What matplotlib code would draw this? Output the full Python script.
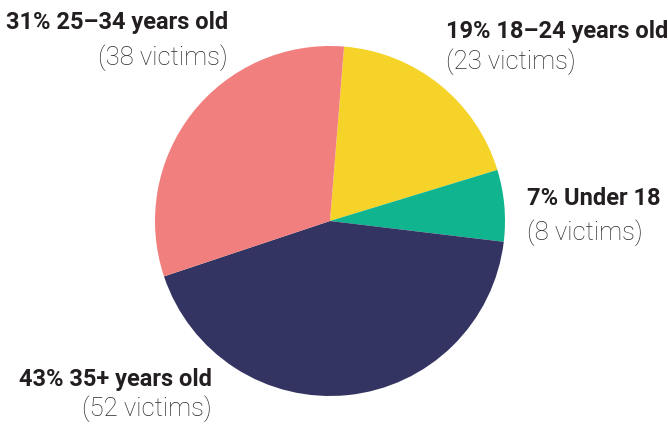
import matplotlib
matplotlib.use("Agg")
import matplotlib.pyplot as plt
from matplotlib import font_manager as fm

# Data
labels = ["18–24 years old", "Under 18", "35+ years old", "25–34 years old"]
victims = [23, 8, 52, 38]
colors = ["#F5D328", "#10B48F", "#343462", "#F17F7D"]

W, H = 668, 427
fig = plt.figure(figsize=(W / 100, H / 100), dpi=100)

cx, cy, r = 330, 222, 175
ax = fig.add_axes([(cx - r) / W, (H - cy - r) / H, 2 * r / W, 2 * r / H])
ax.pie(victims, colors=colors, startangle=85.4, counterclock=False,
       radius=1, wedgeprops=dict(linewidth=0))
ax.set_xlim(-1, 1)
ax.set_ylim(-1, 1)
ax.set_aspect("auto")
ax.axis("off")

names = {f.name for f in fm.fontManager.ttflist}
bold_family = "Liberation Sans Narrow" if "Liberation Sans Narrow" in names else "Roboto"
light_family = "Roboto"

total = sum(victims)
pcts = [round(v / total * 100) for v in victims]

# label placement: (x, baseline1, baseline2, ha)
place = [
    (446, 38, 69, "left"),
    (527, 205, 240, "left"),
    (212, 386, 416, "right"),
    (228, 29, 65, "right"),
]
for lab, v, p, (x, b1, b2, ha) in zip(labels, victims, pcts, place):
    fig.text(x / W, 1 - b1 / H, f"{p}% {lab}", ha=ha, va="baseline",
             fontsize=17, fontweight="bold", family=bold_family, color="#231F20")
    fig.text(x / W, 1 - b2 / H, f"({v} victims)", ha=ha, va="baseline",
             fontsize=18.5, fontweight="light", family=light_family, color="#2A2A2A")

fig.savefig("out.png", dpi=100)
